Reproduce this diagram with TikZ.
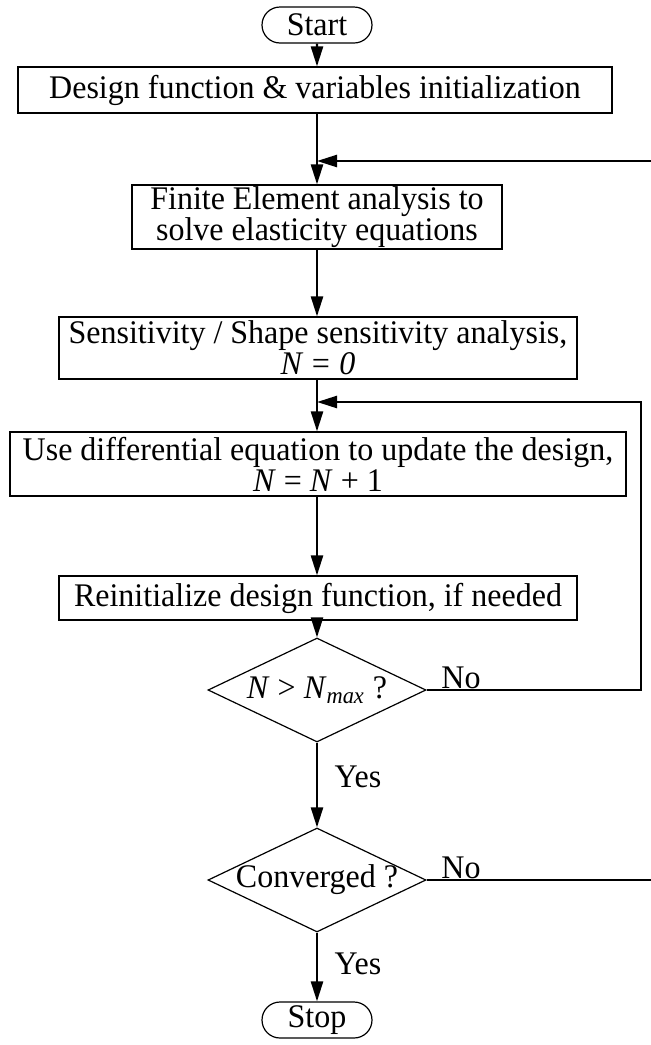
\documentclass[tikz,border=0pt]{standalone}
\usepackage{fontspec}
\setmainfont{Liberation Serif}[FakeStretch=0.97]
\usetikzlibrary{arrows.meta,shapes.geometric,shapes.misc}

\begin{document}
\begin{tikzpicture}[x=0.5pt,y=-0.5pt,
    font=\fontsize{16.5}{15.5}\selectfont,
    box/.style={draw,line width=0.6pt,align=center,inner sep=0pt},
    term/.style={draw,rounded rectangle,line width=0.6pt,minimum width=55pt,minimum height=18pt,inner sep=0pt},
    dec/.style={draw,diamond,line width=0.6pt,minimum width=109pt,minimum height=52pt,inner sep=0pt},
    arr/.style={line width=1.2pt,-{Triangle[length=10pt,width=6pt]}},
    lbl/.style={inner sep=0pt}]
\useasboundingbox (0,0) rectangle (651,1045);

\node[term] (start) at (317,25) {Start};
\node[box,minimum width=297pt,minimum height=23pt] (design) at (315,90) {Design function \& variables initialization};
\node[box,minimum width=185pt,minimum height=32pt] (fe) at (317,217) {Finite Element analysis to\\solve elasticity equations};
\node[box,minimum width=259pt,minimum height=31pt] (sens) at (318,348) {Sensitivity / Shape sensitivity analysis,\\\textit{N = 0}};
\node[box,minimum width=308pt,minimum height=32pt] (upd) at (318,464) {Use differential equation to update the design,\\\textit{N} = \textit{N} + 1};
\node[box,minimum width=259pt,minimum height=22pt] (reinit) at (318,598) {Reinitialize design function, if needed};
\node[dec] (nmax) at (317,690) {\makebox[0pt]{\textit{N} > \textit{N}\textsubscript{\textit{max}} ?}};
\node[dec] (conv) at (317,880) {\makebox[0pt]{Converged ?}};
\node[term] (stop) at (317,1020) {Stop};

\coordinate (m1) at (317,161);
\coordinate (m2) at (317,402);
\coordinate (r1) at (655,161);
\coordinate (r2) at (641,402);

\draw[arr] (start) -- (design.north -| start);
\draw[arr] (design.south -| fe) -- (fe);
\draw[arr] (fe) -- (sens.north -| fe);
\draw[arr] (sens.south -| fe) -- (upd.north -| fe);
\draw[arr] (upd.south -| fe) -- (reinit.north -| fe);
\draw[arr] (reinit.south -| fe) -- (nmax);
\draw[arr] (nmax) -- (conv);
\draw[arr] (conv) -- (stop);
\draw[arr] (nmax.east) -| (r2) -- (m2);
\draw[arr] (conv.east) -| (r1) -- (m1);

\node[lbl] (no1) at (461,678) {No};
\node[lbl] (yes1) at (358,777) {Yes};
\node[lbl] (no2) at (461,868) {No};
\node[lbl] (yes2) at (358,964) {Yes};
\end{tikzpicture}
\end{document}
